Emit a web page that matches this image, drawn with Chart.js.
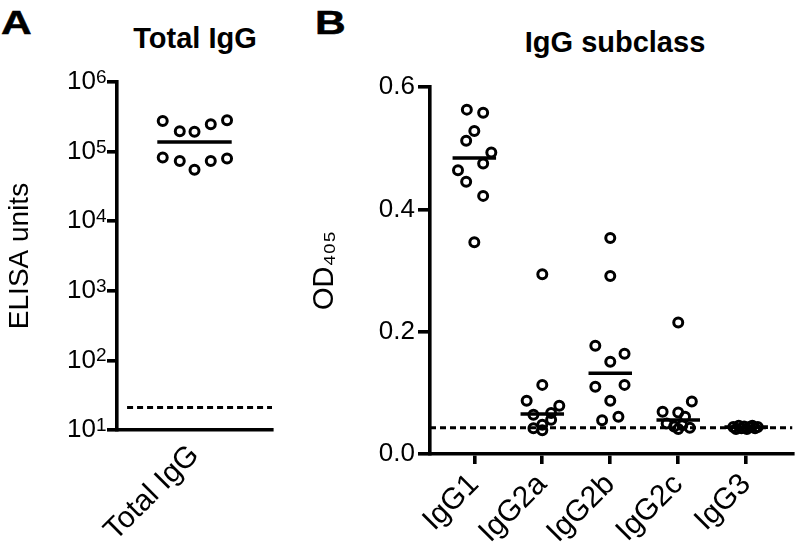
<!DOCTYPE html>
<html>
<head>
<meta charset="utf-8">
<script src="https://cdn.jsdelivr.net/npm/chart.js@4.4.1/dist/chart.umd.min.js"></script>
<style>
    body { margin: 0; background: #fff; width: 800px; height: 553px; position: relative; overflow: hidden; font-family: 'Liberation Sans', Arial, sans-serif; }
    .lbl { position: absolute; font-weight: bold; color: #000; line-height: 1; white-space: nowrap; }
    .panel { font-size: 34px; transform: scaleX(1.25); transform-origin: left top; -webkit-text-stroke: 0.5px #000; }
    canvas { position: absolute; top: 0; }
</style>
</head>
<body>
<div class="lbl panel" style="left:1px;top:5px;">A</div>
<div class="lbl panel" style="left:315px;top:5px;">B</div>
<div class="lbl" style="left:195px;top:24px;font-size:29px;transform:translateX(-50%);">Total IgG</div>
<div class="lbl" style="left:615px;top:28px;font-size:29px;transform:translateX(-50%);">IgG subclass</div>
<canvas id="chartA" width="300" height="553" style="left:0"></canvas>
<canvas id="chartB" width="500" height="553" style="left:300px"></canvas>
<script>
// Panel A - total IgG (ELISA units, log scale)
const categoriesA = ['Total IgG'];
const totalIgG = [275000, 196000, 193000, 247000, 282000, 82000, 73000, 55000, 73000, 79500];
const totalIgGX = [-0.41, -0.19, 0, 0.21, 0.42, -0.41, -0.19, 0, 0.21, 0.42];
const yTicksA = [10, 100, 1000, 10000, 100000, 1000000];
const cutoffA = 21;

// Panel B - IgG subclass (OD405)
const categoriesB = ['IgG1', 'IgG2a', 'IgG2b', 'IgG2c', 'IgG3'];
const igg1 = [0.563, 0.558, 0.528, 0.512, 0.493, 0.475, 0.464, 0.445, 0.422, 0.346];
const igg1X = [-0.11, 0.13, 0, -0.12, 0.25, 0.13, -0.24, -0.12, 0.13, 0];
const igg2a = [0.294, 0.113, 0.087, 0.079, 0.067, 0.064, 0.056, 0.048, 0.042, 0.039];
const igg2aX = [0, 0, -0.23, 0.25, 0.13, -0.13, 0.13, 0, -0.13, 0];
const igg2b = [0.353, 0.291, 0.177, 0.164, 0.151, 0.110, 0.113, 0.087, 0.061, 0.055];
const igg2bX = [0, 0, -0.22, 0.21, 0, -0.22, 0.21, 0, 0.12, -0.12];
const igg2c = [0.215, 0.086, 0.069, 0.068, 0.061, 0.050, 0.045, 0.047, 0.043, 0.041];
const igg2cX = [0, 0.2, -0.23, 0, 0.1, -0.17, -0.06, 0.06, 0.17, 0];
const igg3 = [0.044, 0.041, 0.046, 0.042, 0.045, 0.041, 0.044, 0.046, 0.042, 0.044];
const igg3X = [-0.19, -0.15, -0.11, -0.07, -0.03, 0.01, 0.05, 0.09, 0.13, 0.17];
const yTicksB = [0, 0.2, 0.4, 0.6];
const cutoffB = 0.043;

const FONT = "'Liberation Sans', Arial, sans-serif";
const BLACK = '#000';
const AXIS_W = 3.6;

function median(arr) {
    const s = arr.slice().sort((a, b) => a - b);
    const m = Math.floor(s.length / 2);
    return s.length % 2 ? s[m] : (s[m - 1] + s[m]) / 2;
}

function pointsDataset(values, xs, center) {
    return {
        type: 'scatter',
        data: values.map((v, i) => ({ x: center + xs[i], y: v })),
        pointRadius: 4.5,
        pointBorderWidth: 3,
        pointBorderColor: BLACK,
        pointBackgroundColor: 'transparent',
        order: 1
    };
}

function medianDataset(groups, halfWidth) {
    const data = [];
    groups.forEach((g, i) => {
        const m = median(g);
        data.push({ x: i - halfWidth, y: m }, { x: i + halfWidth, y: m }, { x: i + 0.5, y: null });
    });
    return {
        type: 'line',
        data: data,
        borderColor: BLACK,
        borderWidth: 3.6,
        pointRadius: 0,
        spanGaps: false,
        order: 2
    };
}

function cutoffDataset(x1, x2, value) {
    return {
        type: 'line',
        data: [{ x: x1, y: value }, { x: x2, y: value }],
        borderColor: BLACK,
        borderWidth: 3,
        borderDash: [6, 4],
        pointRadius: 0,
        order: 3
    };
}

// draws the exponent of the log axis labels (10^n) as a superscript
const exponentPlugin = {
    id: 'exponents',
    afterDraw(chart) {
        const scale = chart.scales.y;
        const ctx = chart.ctx;
        ctx.save();
        ctx.fillStyle = BLACK;
        ctx.font = '19px ' + FONT;
        ctx.textAlign = 'left';
        ctx.textBaseline = 'alphabetic';
        yTicksA.forEach((v) => {
            const y = scale.getPixelForValue(v);
            ctx.fillText(String(Math.round(Math.log10(v))), scale.right - 21, y + 1);
        });
        ctx.restore();
    }
};

const axisBorder = { color: BLACK, width: AXIS_W };

// Panel A
new Chart(document.getElementById('chartA'), {
    type: 'scatter',
    data: {
        datasets: [
            cutoffDataset(-0.87, 1, cutoffA),
            medianDataset([totalIgG], 0.48),
            pointsDataset(totalIgG, totalIgGX, 0)
        ]
    },
    options: {
        responsive: false,
        animation: false,
        devicePixelRatio: 1,
        layout: { padding: { top: 82, right: 28, left: 0, bottom: 0 } },
        plugins: { legend: { display: false }, tooltip: { enabled: false } },
        scales: {
            x: {
                type: 'linear',
                min: -1,
                max: 1,
                afterBuildTicks: (s) => { s.ticks = categoriesA.map((c, i) => ({ value: i })); },
                afterFit: (s) => { s.height = 553 - 430; },
                border: axisBorder,
                grid: { drawOnChartArea: false, drawTicks: false, color: BLACK, lineWidth: AXIS_W },
                ticks: {
                    callback: (v) => categoriesA[v],
                    minRotation: 45,
                    maxRotation: 45,
                    autoSkip: false,
                    padding: 8,
                    color: BLACK,
                    font: { family: FONT, size: 30 }
                }
            },
            y: {
                type: 'logarithmic',
                min: 10,
                max: 1000000,
                afterBuildTicks: (s) => { s.ticks = yTicksA.map((v) => ({ value: v })); },
                afterFit: (s) => { s.width = 117; },
                border: axisBorder,
                grid: { drawOnChartArea: false, tickLength: 10, color: BLACK, lineWidth: AXIS_W },
                ticks: {
                    callback: () => '10',
                    padding: 11,
                    color: BLACK,
                    font: { family: FONT, size: 26 }
                },
                title: {
                    display: true,
                    text: 'ELISA units',
                    color: BLACK,
                    padding: { top: 3, bottom: 0 },
                    font: { family: FONT, size: 28 }
                }
            }
        }
    },
    plugins: [exponentPlugin]
});

// Panel B
const groupsB = [igg1, igg2a, igg2b, igg2c, igg3];
const jitterB = [igg1X, igg2aX, igg2bX, igg2cX, igg3X];

new Chart(document.getElementById('chartB'), {
    type: 'scatter',
    data: {
        datasets: [
            cutoffDataset(-0.652, 4.681, cutoffB),
            medianDataset(groupsB, 0.32)
        ].concat(groupsB.map((g, i) => pointsDataset(g, jitterB[i], i)))
    },
    options: {
        responsive: false,
        animation: false,
        devicePixelRatio: 1,
        layout: { padding: { top: 87, right: 2, left: 0, bottom: 0 } },
        plugins: { legend: { display: false }, tooltip: { enabled: false } },
        scales: {
            x: {
                type: 'linear',
                min: -0.652,
                max: 4.681,
                afterBuildTicks: (s) => { s.ticks = categoriesB.map((c, i) => ({ value: i })); },
                afterFit: (s) => { s.height = 553 - 454; },
                border: axisBorder,
                grid: { drawOnChartArea: false, tickLength: 10, color: BLACK, lineWidth: AXIS_W },
                ticks: {
                    callback: (v) => categoriesB[v],
                    minRotation: 45,
                    maxRotation: 45,
                    autoSkip: false,
                    padding: 3,
                    color: BLACK,
                    font: { family: FONT, size: 30 }
                }
            },
            y: {
                min: 0,
                max: 0.6,
                afterBuildTicks: (s) => { s.ticks = yTicksB.map((v) => ({ value: v })); },
                afterFit: (s) => { s.width = 130; },
                border: axisBorder,
                grid: { drawOnChartArea: false, tickLength: 12, color: BLACK, lineWidth: AXIS_W },
                ticks: {
                    callback: (v) => v.toFixed(1),
                    padding: 3,
                    color: BLACK,
                    font: { family: FONT, size: 26 }
                },
                title: {
                    display: true,
                    text: 'OD₄₀₅',
                    color: BLACK,
                    padding: { top: 8, bottom: 0 },
                    font: { family: FONT, size: 29 }
                }
            }
        }
    }
});
</script>
</body>
</html>
